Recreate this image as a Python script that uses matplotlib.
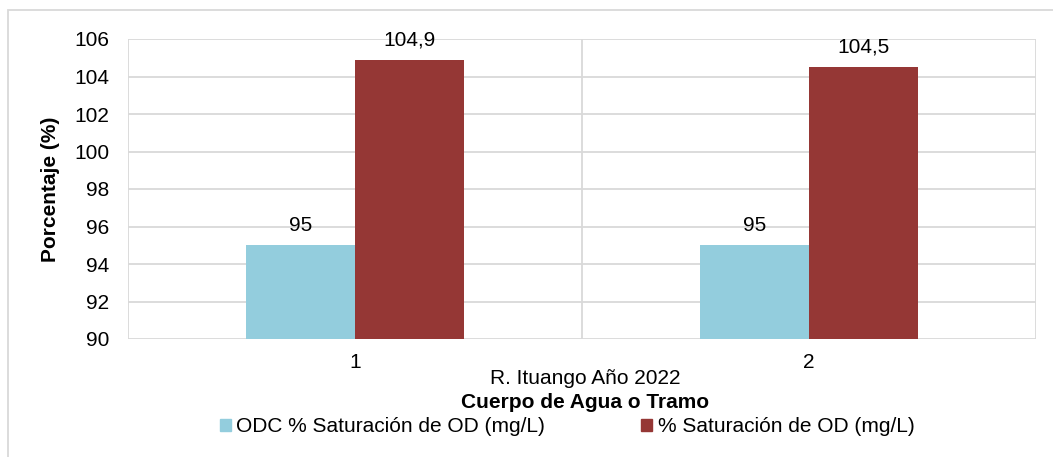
import matplotlib
matplotlib.use("Agg")
import matplotlib.pyplot as plt
from matplotlib.patches import Rectangle, Patch
import numpy as np

plt.rcParams['font.family'] = ['Liberation Sans', 'DejaVu Sans']

categorias = ["1", "2"]
odc_saturacion = [95, 95]
saturacion_od = [104.9, 104.5]
etiquetas_odc = ["95", "95"]
etiquetas_sat = ["104,9", "104,5"]
serie_odc = "ODC % Saturación de OD (mg/L)"
serie_sat = "% Saturación de OD (mg/L)"
yticks = [90, 92, 94, 96, 98, 100, 102, 104, 106]

azul = "#93CDDD"
rojo = "#953735"
gris = "#D9D9D9"
fs = 15

W, H = 1053, 457
fig = plt.figure(figsize=(W / 100, H / 100), dpi=100)
ax = fig.add_axes([128 / W, 1 - 339 / H, (1036 - 128) / W, (339 - 39) / H])

x = np.arange(1, len(categorias) + 1)
ancho = 0.24
ax.bar(x - ancho / 2, [v - 90 for v in odc_saturacion], ancho, bottom=90,
       color=azul, label=serie_odc)
ax.bar(x + ancho / 2, [v - 90 for v in saturacion_od], ancho, bottom=90,
       color=rojo, label=serie_sat)

for xi, v, t in zip(x - ancho / 2, odc_saturacion, etiquetas_odc):
    ax.text(xi, v + 0.55, t, ha="center", va="bottom", fontsize=fs)
for xi, v, t in zip(x + ancho / 2, saturacion_od, etiquetas_sat):
    ax.text(xi, v + 0.55, t, ha="center", va="bottom", fontsize=fs)

ax.set_xlim(0.5, len(categorias) + 0.5)
ax.set_ylim(90, 106)
ax.set_yticks(yticks)
ax.set_yticklabels([str(t) for t in yticks], fontsize=fs)
ax.set_xticks(x)
ax.set_xticklabels(categorias, fontsize=fs)
ax.tick_params(axis="x", length=0, pad=10)
ax.tick_params(axis="y", length=0, pad=13.5)

# cuadricula horizontal y separadores verticales entre categorias
ax.set_axisbelow(True)
ax.grid(axis="y", color=gris, linewidth=1.3)
ax.set_xticks(np.arange(0.5, len(categorias) + 1), minor=True)
ax.grid(axis="x", which="minor", color=gris, linewidth=1.3)
ax.tick_params(which="minor", length=0)
for s in ax.spines.values():
    s.set_visible(False)

ax.set_ylabel("Porcentaje (%)", fontsize=fs, fontweight="bold")
ax.yaxis.set_label_coords((60 - 128) / (1036 - 128), 0.5)
fig.text(585 / W, 1 - 379 / H, "R. Ituango Año 2022", ha="center", va="center",
         fontsize=fs)
fig.text(585 / W, 1 - 402 / H, "Cuerpo de Agua o Tramo", ha="center", va="center",
         fontsize=fs, fontweight="bold")

fig.legend(handles=[Patch(color=azul, label=serie_odc), Patch(color=rojo, label=serie_sat)],
           loc="center", bbox_to_anchor=(567 / W, 1 - 427 / H), ncol=2, frameon=False,
           fontsize=fs, handlelength=0.55, handleheight=0.55, handletextpad=0.25,
           columnspacing=4.6, borderpad=0, borderaxespad=0)

# marco exterior del grafico
fig.patches.append(Rectangle((7.5 / W, -0.05), 1.1, 1 - 10 / H + 0.05,
                             transform=fig.transFigure, fill=False,
                             edgecolor=gris, linewidth=1.3))

fig.savefig("out.png", dpi=100)
